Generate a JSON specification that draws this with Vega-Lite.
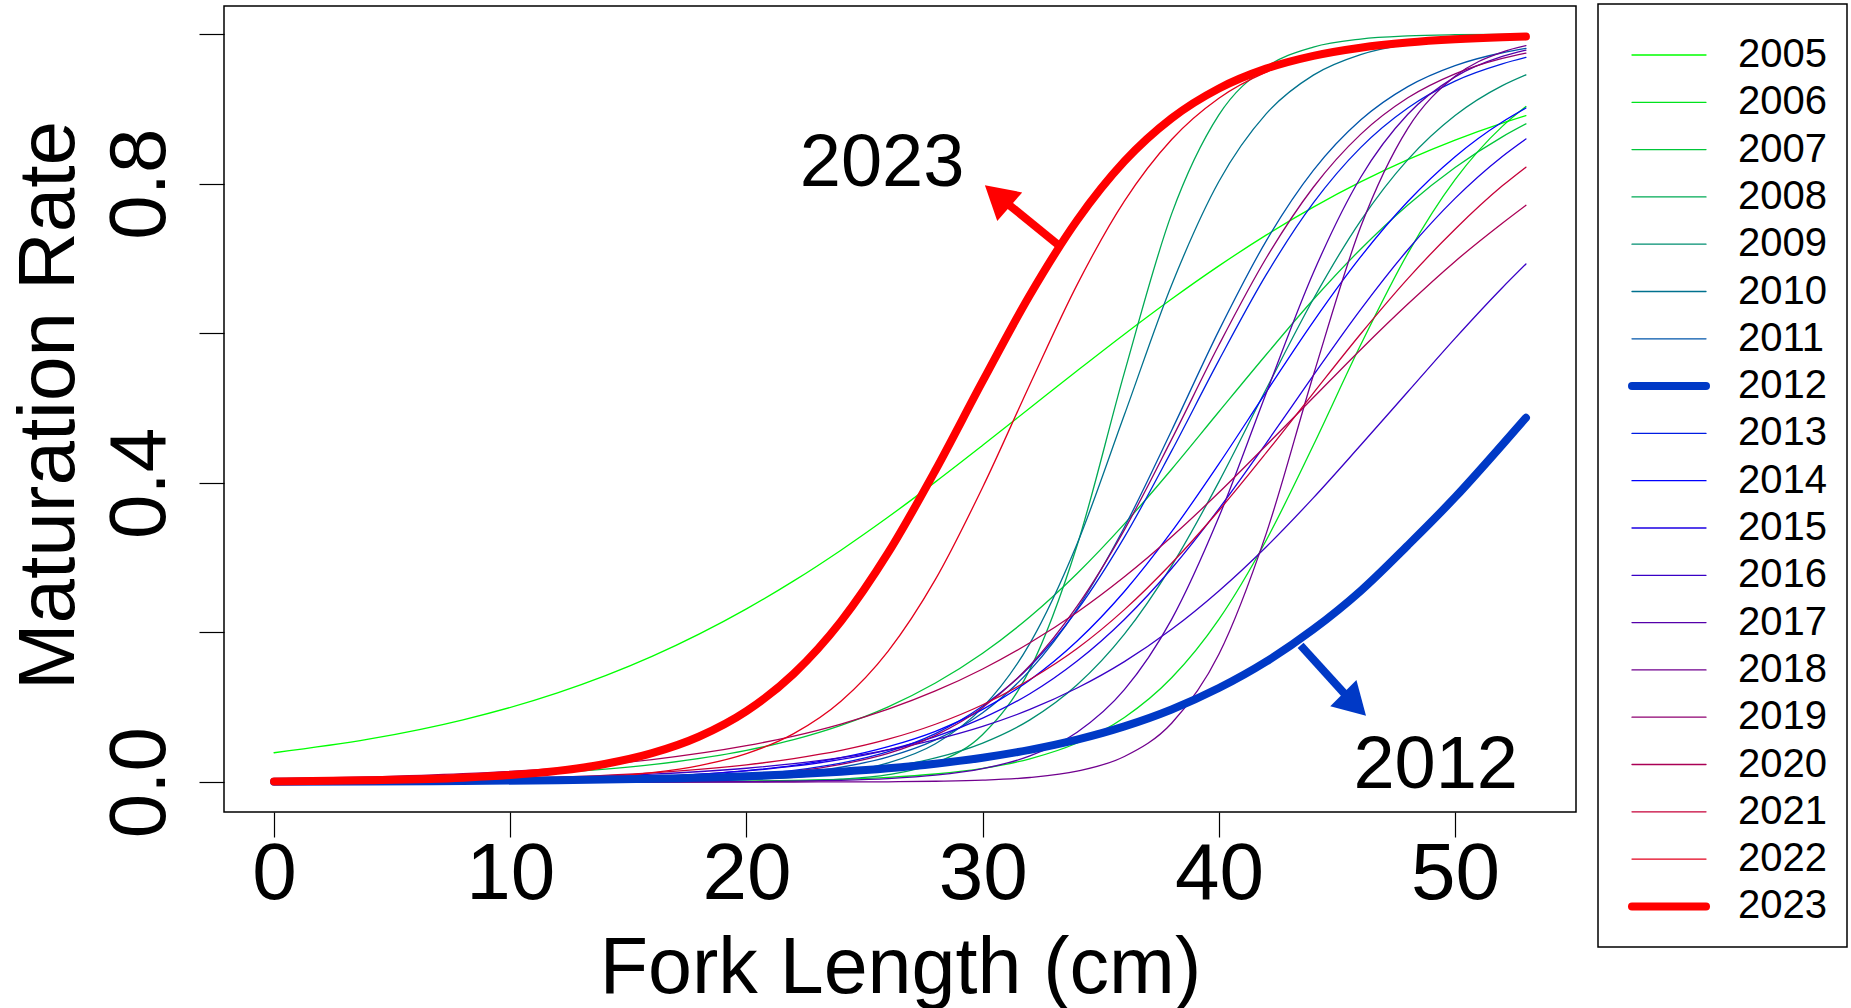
{
"$schema": "https://vega.github.io/schema/vega-lite/v6.json",
"width": 1352, "height": 806,
"autosize": {"type": "none"},
"padding": {"left": 224, "top": 6, "right": 275, "bottom": 196},
"background": "white",
"config": {
  "view": {"stroke": "black", "strokeWidth": 1.5},
  "axis": {"labelFont": "Liberation Sans", "titleFont": "Liberation Sans", "titleFontWeight": "normal", "labelColor": "black", "titleColor": "black", "tickColor": "black", "tickWidth": 1.2, "domain": false, "grid": false, "labelOverlap": false, "labelFlush": false, "labelBound": false}
},
"datasets": {
 "curves": [
{"yr":"2005","x":0,"p":0.0392},{"yr":"2005","x":4,"p":0.0573},{"yr":"2005","x":8,"p":0.0832},{"yr":"2005","x":12,"p":0.1192},{"yr":"2005","x":16,"p":0.168},{"yr":"2005","x":20,"p":0.2315},{"yr":"2005","x":22,"p":0.2689},{"yr":"2005","x":24,"p":0.31},{"yr":"2005","x":26,"p":0.3543},{"yr":"2005","x":28,"p":0.4013},{"yr":"2005","x":30,"p":0.4502},{"yr":"2005","x":32,"p":0.5},{"yr":"2005","x":34,"p":0.5498},{"yr":"2005","x":36,"p":0.5987},{"yr":"2005","x":38,"p":0.6457},{"yr":"2005","x":40,"p":0.69},{"yr":"2005","x":42,"p":0.7311},{"yr":"2005","x":44,"p":0.7685},{"yr":"2005","x":46,"p":0.8022},{"yr":"2005","x":48,"p":0.832},{"yr":"2005","x":50,"p":0.8581},{"yr":"2005","x":52,"p":0.8808},{"yr":"2005","x":53,"p":0.8909},
{"yr":"2006","x":0,"p":0},{"yr":"2006","x":4,"p":0},{"yr":"2006","x":8,"p":0.0001},{"yr":"2006","x":12,"p":0.0001},{"yr":"2006","x":16,"p":0.0004},{"yr":"2006","x":20,"p":0.0013},{"yr":"2006","x":22,"p":0.0022},{"yr":"2006","x":24,"p":0.0037},{"yr":"2006","x":26,"p":0.0063},{"yr":"2006","x":28,"p":0.0108},{"yr":"2006","x":30,"p":0.0183},{"yr":"2006","x":32,"p":0.0311},{"yr":"2006","x":34,"p":0.0522},{"yr":"2006","x":36,"p":0.0863},{"yr":"2006","x":38,"p":0.1394},{"yr":"2006","x":40,"p":0.2175},{"yr":"2006","x":42,"p":0.323},{"yr":"2006","x":44,"p":0.4502},{"yr":"2006","x":46,"p":0.5842},{"yr":"2006","x":48,"p":0.7068},{"yr":"2006","x":50,"p":0.8053},{"yr":"2006","x":52,"p":0.8765},{"yr":"2006","x":53,"p":0.903},
{"yr":"2007","x":0,"p":0.002},{"yr":"2007","x":4,"p":0.0037},{"yr":"2007","x":8,"p":0.0068},{"yr":"2007","x":12,"p":0.0126},{"yr":"2007","x":16,"p":0.0232},{"yr":"2007","x":20,"p":0.0423},{"yr":"2007","x":22,"p":0.0568},{"yr":"2007","x":24,"p":0.0759},{"yr":"2007","x":26,"p":0.1006},{"yr":"2007","x":28,"p":0.1324},{"yr":"2007","x":30,"p":0.1722},{"yr":"2007","x":32,"p":0.221},{"yr":"2007","x":34,"p":0.2789},{"yr":"2007","x":36,"p":0.3452},{"yr":"2007","x":38,"p":0.4182},{"yr":"2007","x":40,"p":0.495},{"yr":"2007","x":42,"p":0.5712},{"yr":"2007","x":44,"p":0.645},{"yr":"2007","x":46,"p":0.7123},{"yr":"2007","x":48,"p":0.7715},{"yr":"2007","x":50,"p":0.8216},{"yr":"2007","x":52,"p":0.8625},{"yr":"2007","x":53,"p":0.8798},
{"yr":"2008","x":0,"p":0},{"yr":"2008","x":4,"p":0},{"yr":"2008","x":8,"p":0},{"yr":"2008","x":12,"p":0},{"yr":"2008","x":16,"p":0.0001},{"yr":"2008","x":20,"p":0.0006},{"yr":"2008","x":22,"p":0.0015},{"yr":"2008","x":24,"p":0.0038},{"yr":"2008","x":26,"p":0.0099},{"yr":"2008","x":28,"p":0.0253},{"yr":"2008","x":30,"p":0.0636},{"yr":"2008","x":32,"p":0.1506},{"yr":"2008","x":34,"p":0.3165},{"yr":"2008","x":36,"p":0.5474},{"yr":"2008","x":38,"p":0.7595},{"yr":"2008","x":40,"p":0.8918},{"yr":"2008","x":42,"p":0.9556},{"yr":"2008","x":44,"p":0.9825},{"yr":"2008","x":46,"p":0.9932},{"yr":"2008","x":48,"p":0.9974},{"yr":"2008","x":50,"p":0.999},{"yr":"2008","x":52,"p":0.9996},{"yr":"2008","x":53,"p":0.9998},
{"yr":"2009","x":0,"p":0},{"yr":"2009","x":4,"p":0.0001},{"yr":"2009","x":8,"p":0.0002},{"yr":"2009","x":12,"p":0.0006},{"yr":"2009","x":16,"p":0.0017},{"yr":"2009","x":20,"p":0.0045},{"yr":"2009","x":22,"p":0.0074},{"yr":"2009","x":24,"p":0.0121},{"yr":"2009","x":26,"p":0.0198},{"yr":"2009","x":28,"p":0.0323},{"yr":"2009","x":30,"p":0.0522},{"yr":"2009","x":32,"p":0.0832},{"yr":"2009","x":34,"p":0.1301},{"yr":"2009","x":36,"p":0.1978},{"yr":"2009","x":38,"p":0.2891},{"yr":"2009","x":40,"p":0.4013},{"yr":"2009","x":42,"p":0.525},{"yr":"2009","x":44,"p":0.6457},{"yr":"2009","x":46,"p":0.7503},{"yr":"2009","x":48,"p":0.832},{"yr":"2009","x":50,"p":0.8909},{"yr":"2009","x":52,"p":0.9309},{"yr":"2009","x":53,"p":0.9453},
{"yr":"2010","x":0,"p":0},{"yr":"2010","x":4,"p":0},{"yr":"2010","x":8,"p":0},{"yr":"2010","x":12,"p":0.0002},{"yr":"2010","x":16,"p":0.0007},{"yr":"2010","x":20,"p":0.003},{"yr":"2010","x":22,"p":0.0062},{"yr":"2010","x":24,"p":0.0126},{"yr":"2010","x":26,"p":0.0256},{"yr":"2010","x":28,"p":0.0512},{"yr":"2010","x":30,"p":0.0998},{"yr":"2010","x":32,"p":0.1854},{"yr":"2010","x":34,"p":0.3186},{"yr":"2010","x":36,"p":0.491},{"yr":"2010","x":38,"p":0.6646},{"yr":"2010","x":40,"p":0.8028},{"yr":"2010","x":42,"p":0.8932},{"yr":"2010","x":44,"p":0.945},{"yr":"2010","x":46,"p":0.9724},{"yr":"2010","x":48,"p":0.9864},{"yr":"2010","x":50,"p":0.9933},{"yr":"2010","x":52,"p":0.9967},{"yr":"2010","x":53,"p":0.9977},
{"yr":"2011","x":0,"p":0},{"yr":"2011","x":4,"p":0.0001},{"yr":"2011","x":8,"p":0.0003},{"yr":"2011","x":12,"p":0.0008},{"yr":"2011","x":16,"p":0.0023},{"yr":"2011","x":20,"p":0.0068},{"yr":"2011","x":22,"p":0.0117},{"yr":"2011","x":24,"p":0.0198},{"yr":"2011","x":26,"p":0.0336},{"yr":"2011","x":28,"p":0.0563},{"yr":"2011","x":30,"p":0.0928},{"yr":"2011","x":32,"p":0.1493},{"yr":"2011","x":34,"p":0.2315},{"yr":"2011","x":36,"p":0.3407},{"yr":"2011","x":38,"p":0.47},{"yr":"2011","x":40,"p":0.6035},{"yr":"2011","x":42,"p":0.7231},{"yr":"2011","x":44,"p":0.8176},{"yr":"2011","x":46,"p":0.8849},{"yr":"2011","x":48,"p":0.9296},{"yr":"2011","x":50,"p":0.9577},{"yr":"2011","x":52,"p":0.9749},{"yr":"2011","x":53,"p":0.9807},
{"yr":"2012","x":0,"p":0.0004},{"yr":"2012","x":4,"p":0.0008},{"yr":"2012","x":8,"p":0.0014},{"yr":"2012","x":12,"p":0.0025},{"yr":"2012","x":16,"p":0.0044},{"yr":"2012","x":20,"p":0.0078},{"yr":"2012","x":22,"p":0.0105},{"yr":"2012","x":24,"p":0.0139},{"yr":"2012","x":26,"p":0.0185},{"yr":"2012","x":28,"p":0.0246},{"yr":"2012","x":30,"p":0.0326},{"yr":"2012","x":32,"p":0.0431},{"yr":"2012","x":34,"p":0.0568},{"yr":"2012","x":36,"p":0.0745},{"yr":"2012","x":38,"p":0.0971},{"yr":"2012","x":40,"p":0.1257},{"yr":"2012","x":42,"p":0.161},{"yr":"2012","x":44,"p":0.2042},{"yr":"2012","x":46,"p":0.2555},{"yr":"2012","x":48,"p":0.3165},{"yr":"2012","x":50,"p":0.3806},{"yr":"2012","x":52,"p":0.4509},{"yr":"2012","x":53,"p":0.487},
{"yr":"2013","x":0,"p":0.0001},{"yr":"2013","x":4,"p":0.0002},{"yr":"2013","x":8,"p":0.0005},{"yr":"2013","x":12,"p":0.0014},{"yr":"2013","x":16,"p":0.0037},{"yr":"2013","x":20,"p":0.0098},{"yr":"2013","x":22,"p":0.0157},{"yr":"2013","x":24,"p":0.0253},{"yr":"2013","x":26,"p":0.0407},{"yr":"2013","x":28,"p":0.0648},{"yr":"2013","x":30,"p":0.1016},{"yr":"2013","x":32,"p":0.1545},{"yr":"2013","x":34,"p":0.2297},{"yr":"2013","x":36,"p":0.3274},{"yr":"2013","x":38,"p":0.4427},{"yr":"2013","x":40,"p":0.5637},{"yr":"2013","x":42,"p":0.6779},{"yr":"2013","x":44,"p":0.7742},{"yr":"2013","x":46,"p":0.8481},{"yr":"2013","x":48,"p":0.9011},{"yr":"2013","x":50,"p":0.937},{"yr":"2013","x":52,"p":0.96},{"yr":"2013","x":53,"p":0.9686},
{"yr":"2014","x":0,"p":0.0003},{"yr":"2014","x":4,"p":0.0007},{"yr":"2014","x":8,"p":0.0015},{"yr":"2014","x":12,"p":0.0033},{"yr":"2014","x":16,"p":0.0071},{"yr":"2014","x":20,"p":0.0153},{"yr":"2014","x":22,"p":0.0223},{"yr":"2014","x":24,"p":0.0326},{"yr":"2014","x":26,"p":0.0474},{"yr":"2014","x":28,"p":0.0679},{"yr":"2014","x":30,"p":0.0971},{"yr":"2014","x":32,"p":0.1365},{"yr":"2014","x":34,"p":0.1886},{"yr":"2014","x":36,"p":0.2548},{"yr":"2014","x":38,"p":0.3347},{"yr":"2014","x":40,"p":0.4253},{"yr":"2014","x":42,"p":0.5212},{"yr":"2014","x":44,"p":0.6156},{"yr":"2014","x":46,"p":0.702},{"yr":"2014","x":48,"p":0.7761},{"yr":"2014","x":50,"p":0.836},{"yr":"2014","x":52,"p":0.8824},{"yr":"2014","x":53,"p":0.901},
{"yr":"2015","x":0,"p":0.0004},{"yr":"2015","x":4,"p":0.0008},{"yr":"2015","x":8,"p":0.0017},{"yr":"2015","x":12,"p":0.0035},{"yr":"2015","x":16,"p":0.0072},{"yr":"2015","x":20,"p":0.0149},{"yr":"2015","x":22,"p":0.0212},{"yr":"2015","x":24,"p":0.0302},{"yr":"2015","x":26,"p":0.0431},{"yr":"2015","x":28,"p":0.0607},{"yr":"2015","x":30,"p":0.0855},{"yr":"2015","x":32,"p":0.1181},{"yr":"2015","x":34,"p":0.1618},{"yr":"2015","x":36,"p":0.2174},{"yr":"2015","x":38,"p":0.2855},{"yr":"2015","x":40,"p":0.3652},{"yr":"2015","x":42,"p":0.4529},{"yr":"2015","x":44,"p":0.5436},{"yr":"2015","x":46,"p":0.6316},{"yr":"2015","x":48,"p":0.7116},{"yr":"2015","x":50,"p":0.7802},{"yr":"2015","x":52,"p":0.8363},{"yr":"2015","x":53,"p":0.8597},
{"yr":"2016","x":0,"p":0.001},{"yr":"2016","x":4,"p":0.0019},{"yr":"2016","x":8,"p":0.0033},{"yr":"2016","x":12,"p":0.0059},{"yr":"2016","x":16,"p":0.0105},{"yr":"2016","x":20,"p":0.0185},{"yr":"2016","x":22,"p":0.0246},{"yr":"2016","x":24,"p":0.0326},{"yr":"2016","x":26,"p":0.0431},{"yr":"2016","x":28,"p":0.0568},{"yr":"2016","x":30,"p":0.0745},{"yr":"2016","x":32,"p":0.0971},{"yr":"2016","x":34,"p":0.1257},{"yr":"2016","x":36,"p":0.161},{"yr":"2016","x":38,"p":0.2042},{"yr":"2016","x":40,"p":0.2555},{"yr":"2016","x":42,"p":0.3143},{"yr":"2016","x":44,"p":0.3799},{"yr":"2016","x":46,"p":0.4502},{"yr":"2016","x":48,"p":0.5217},{"yr":"2016","x":50,"p":0.5931},{"yr":"2016","x":52,"p":0.6608},{"yr":"2016","x":53,"p":0.6925},
{"yr":"2017","x":0,"p":0},{"yr":"2017","x":4,"p":0},{"yr":"2017","x":8,"p":0},{"yr":"2017","x":12,"p":0},{"yr":"2017","x":16,"p":0.0002},{"yr":"2017","x":20,"p":0.0006},{"yr":"2017","x":22,"p":0.0012},{"yr":"2017","x":24,"p":0.0024},{"yr":"2017","x":26,"p":0.0047},{"yr":"2017","x":28,"p":0.0092},{"yr":"2017","x":30,"p":0.018},{"yr":"2017","x":32,"p":0.0349},{"yr":"2017","x":34,"p":0.0666},{"yr":"2017","x":36,"p":0.1235},{"yr":"2017","x":38,"p":0.2175},{"yr":"2017","x":40,"p":0.3543},{"yr":"2017","x":42,"p":0.5195},{"yr":"2017","x":44,"p":0.6809},{"yr":"2017","x":46,"p":0.8082},{"yr":"2017","x":48,"p":0.8927},{"yr":"2017","x":50,"p":0.9426},{"yr":"2017","x":52,"p":0.97},{"yr":"2017","x":53,"p":0.9785},
{"yr":"2018","x":0,"p":0},{"yr":"2018","x":4,"p":0},{"yr":"2018","x":8,"p":0},{"yr":"2018","x":12,"p":0},{"yr":"2018","x":16,"p":0},{"yr":"2018","x":20,"p":0},{"yr":"2018","x":22,"p":0.0001},{"yr":"2018","x":24,"p":0.0002},{"yr":"2018","x":26,"p":0.0004},{"yr":"2018","x":28,"p":0.0011},{"yr":"2018","x":30,"p":0.0025},{"yr":"2018","x":32,"p":0.0061},{"yr":"2018","x":34,"p":0.0145},{"yr":"2018","x":36,"p":0.0342},{"yr":"2018","x":38,"p":0.0787},{"yr":"2018","x":40,"p":0.1708},{"yr":"2018","x":42,"p":0.3318},{"yr":"2018","x":44,"p":0.5439},{"yr":"2018","x":46,"p":0.7419},{"yr":"2018","x":48,"p":0.8739},{"yr":"2018","x":50,"p":0.9435},{"yr":"2018","x":52,"p":0.9758},{"yr":"2018","x":53,"p":0.9843},
{"yr":"2019","x":0,"p":0},{"yr":"2019","x":4,"p":0.0002},{"yr":"2019","x":8,"p":0.0004},{"yr":"2019","x":12,"p":0.0012},{"yr":"2019","x":16,"p":0.0032},{"yr":"2019","x":20,"p":0.0087},{"yr":"2019","x":22,"p":0.0143},{"yr":"2019","x":24,"p":0.0237},{"yr":"2019","x":26,"p":0.0384},{"yr":"2019","x":28,"p":0.0625},{"yr":"2019","x":30,"p":0.0998},{"yr":"2019","x":32,"p":0.1558},{"yr":"2019","x":34,"p":0.2351},{"yr":"2019","x":36,"p":0.3372},{"yr":"2019","x":38,"p":0.4581},{"yr":"2019","x":40,"p":0.5842},{"yr":"2019","x":42,"p":0.7002},{"yr":"2019","x":44,"p":0.7951},{"yr":"2019","x":46,"p":0.8658},{"yr":"2019","x":48,"p":0.9147},{"yr":"2019","x":50,"p":0.9468},{"yr":"2019","x":52,"p":0.9674},{"yr":"2019","x":53,"p":0.9744},
{"yr":"2020","x":0,"p":0.0042},{"yr":"2020","x":4,"p":0.0069},{"yr":"2020","x":8,"p":0.0113},{"yr":"2020","x":12,"p":0.0184},{"yr":"2020","x":16,"p":0.03},{"yr":"2020","x":20,"p":0.0486},{"yr":"2020","x":22,"p":0.0615},{"yr":"2020","x":24,"p":0.0776},{"yr":"2020","x":26,"p":0.0975},{"yr":"2020","x":28,"p":0.1218},{"yr":"2020","x":30,"p":0.1512},{"yr":"2020","x":32,"p":0.1862},{"yr":"2020","x":34,"p":0.2271},{"yr":"2020","x":36,"p":0.2745},{"yr":"2020","x":38,"p":0.328},{"yr":"2020","x":40,"p":0.387},{"yr":"2020","x":42,"p":0.45},{"yr":"2020","x":44,"p":0.514},{"yr":"2020","x":46,"p":0.578},{"yr":"2020","x":48,"p":0.639},{"yr":"2020","x":50,"p":0.696},{"yr":"2020","x":52,"p":0.747},{"yr":"2020","x":53,"p":0.771},
{"yr":"2021","x":0,"p":0.001},{"yr":"2021","x":4,"p":0.0018},{"yr":"2021","x":8,"p":0.0035},{"yr":"2021","x":12,"p":0.0066},{"yr":"2021","x":16,"p":0.0123},{"yr":"2021","x":20,"p":0.023},{"yr":"2021","x":22,"p":0.0314},{"yr":"2021","x":24,"p":0.0423},{"yr":"2021","x":26,"p":0.0573},{"yr":"2021","x":28,"p":0.0773},{"yr":"2021","x":30,"p":0.1034},{"yr":"2021","x":32,"p":0.1371},{"yr":"2021","x":34,"p":0.1785},{"yr":"2021","x":36,"p":0.2305},{"yr":"2021","x":38,"p":0.2925},{"yr":"2021","x":40,"p":0.363},{"yr":"2021","x":42,"p":0.44},{"yr":"2021","x":44,"p":0.52},{"yr":"2021","x":46,"p":0.599},{"yr":"2021","x":48,"p":0.673},{"yr":"2021","x":50,"p":0.739},{"yr":"2021","x":52,"p":0.797},{"yr":"2021","x":53,"p":0.822},
{"yr":"2022","x":0,"p":0.0002},{"yr":"2022","x":4,"p":0.0005},{"yr":"2022","x":8,"p":0.0014},{"yr":"2022","x":12,"p":0.0042},{"yr":"2022","x":16,"p":0.0127},{"yr":"2022","x":18,"p":0.0221},{"yr":"2022","x":20,"p":0.0381},{"yr":"2022","x":22,"p":0.0648},{"yr":"2022","x":24,"p":0.1081},{"yr":"2022","x":26,"p":0.1751},{"yr":"2022","x":28,"p":0.2709},{"yr":"2022","x":30,"p":0.3941},{"yr":"2022","x":32,"p":0.5315},{"yr":"2022","x":34,"p":0.665},{"yr":"2022","x":36,"p":0.7766},{"yr":"2022","x":38,"p":0.859},{"yr":"2022","x":40,"p":0.9142},{"yr":"2022","x":42,"p":0.9491},{"yr":"2022","x":44,"p":0.9703},{"yr":"2022","x":46,"p":0.9805},{"yr":"2022","x":48,"p":0.988},{"yr":"2022","x":50,"p":0.9925},{"yr":"2022","x":52,"p":0.995},{"yr":"2022","x":53,"p":0.996},
{"yr":"2023","x":0,"p":0.0009},{"yr":"2023","x":4,"p":0.0023},{"yr":"2023","x":8,"p":0.0058},{"yr":"2023","x":12,"p":0.015},{"yr":"2023","x":14,"p":0.0242},{"yr":"2023","x":16,"p":0.0386},{"yr":"2023","x":18,"p":0.0609},{"yr":"2023","x":20,"p":0.0948},{"yr":"2023","x":22,"p":0.1448},{"yr":"2023","x":24,"p":0.2148},{"yr":"2023","x":26,"p":0.3066},{"yr":"2023","x":28,"p":0.4168},{"yr":"2023","x":30,"p":0.5359},{"yr":"2023","x":32,"p":0.6511},{"yr":"2023","x":34,"p":0.751},{"yr":"2023","x":36,"p":0.8298},{"yr":"2023","x":38,"p":0.8874},{"yr":"2023","x":40,"p":0.9272},{"yr":"2023","x":42,"p":0.9537},{"yr":"2023","x":44,"p":0.9708},{"yr":"2023","x":46,"p":0.9817},{"yr":"2023","x":48,"p":0.9886},{"yr":"2023","x":50,"p":0.9929},{"yr":"2023","x":52,"p":0.9956},{"yr":"2023","x":53,"p":0.9965}
 ]
},
"encoding": {
  "x": {"field": "x", "type": "quantitative",
        "scale": {"domain": [-2.12, 55.12], "nice": false, "zero": false},
        "axis": {"values": [0, 10, 20, 30, 40, 50], "title": "Fork Length (cm)", "labelFontSize": 80, "titleFontSize": 79, "tickSize": 25, "labelPadding": 61, "labelBaseline": "alphabetic", "labelAlign": "center", "titleY": 180, "titleBaseline": "alphabetic"}},
  "y": {"field": "p", "type": "quantitative",
        "scale": {"domain": [-0.04, 1.0374], "nice": false, "zero": false},
        "axis": {"values": [0, 0.2, 0.4, 0.6, 0.8, 1.0], "title": "Maturation Rate", "labelFontSize": 80, "titleFontSize": 80, "tickSize": 25, "labelPadding": 35, "labelAngle": 270, "labelAlign": "center", "labelBaseline": "alphabetic",
                 "labelExpr": "(abs(datum.value) < 0.01 || abs(datum.value - 0.4) < 0.01 || abs(datum.value - 0.8) < 0.01) ? format(datum.value, '.1f') : ''",
                 "titleAngle": 270, "titleX": -151, "titleY": 399, "titleAlign": "center", "titleBaseline": "alphabetic"}}
},
"layer": [
  {
    "data": {"name": "curves"},
    "encoding": {
      "detail": {"field": "yr"},
      "color": {"field": "yr", "type": "ordinal",
        "scale": {"domain": ["2005","2006","2007","2008","2009","2010","2011","2012","2013","2014","2015","2016","2017","2018","2019","2020","2021","2022","2023"],
                  "range": ["#00FF00","#00E31C","#00C639","#00AA55","#008E71","#00718E","#0055AA","#0039C6","#001CE3","#0000FF","#1C00E3","#3900C6","#5500AA","#71008E","#8E0071","#AA0055","#C60039","#E3001C","#FF0000"]},
        "legend": {"title": "\u00a0", "titleFontSize": 11, "titlePadding": 0, "orient": "none", "legendX": 1374, "legendY": -2, "padding": 20, "strokeColor": "black", "fillColor": "white", "labelFont": "Liberation Sans", "labelFontSize": 40, "labelColor": "black", "labelOffset": 49, "symbolOffset": 31, "rowPadding": 7.3, "symbolType": "M-2.4667,0H2.4667", "symbolSize": 900, "labelLimit": 300,
                   "encode": {"legend": {"update": {"strokeWidth": {"value": 1.5}}},
                              "symbols": {"update": {"strokeCap": {"value": "round"}, "strokeWidth": {"signal": "(datum.value == '2012' || datum.value == '2023') ? 8 : 1.3"}}}}}},
      "strokeWidth": {"field": "yr", "type": "ordinal",
        "scale": {"type": "ordinal", "domain": ["2005","2006","2007","2008","2009","2010","2011","2012","2013","2014","2015","2016","2017","2018","2019","2020","2021","2022","2023"],
                  "range": [1.3,1.3,1.3,1.3,1.3,1.3,1.3,8,1.3,1.3,1.3,1.3,1.3,1.3,1.3,1.3,1.3,1.3,8]},
        "legend": null}
    },
    "layer": [
      {"transform": [{"filter": "datum.yr != '2012' && datum.yr != '2023'"}],
       "mark": {"type": "line", "interpolate": "monotone", "strokeCap": "round", "strokeJoin": "round"}},
      {"transform": [{"filter": "datum.yr == '2012' || datum.yr == '2023'"}],
       "mark": {"type": "line", "interpolate": "monotone", "strokeCap": "round", "strokeJoin": "round"}}
    ]
  },
  {
    "data": {"values": [{"x": 33.16, "p": 0.719, "x2": 31.1, "p2": 0.772}]},
    "mark": {"type": "rule", "color": "#FF0000", "strokeWidth": 8},
    "encoding": {"x2": {"field": "x2"}, "y2": {"field": "p2"}}
  },
  {
    "data": {"values": [{"x": 30.62, "p": 0.7835}]},
    "mark": {"type": "point", "shape": "triangle-up", "filled": true, "color": "#FF0000", "opacity": 1, "size": 1444, "angle": 311, "strokeWidth": 0}
  },
  {
    "data": {"values": [{"x": 43.46, "p": 0.1827, "x2": 45.35, "p2": 0.117}]},
    "mark": {"type": "rule", "color": "#0039C6", "strokeWidth": 8},
    "encoding": {"x2": {"field": "x2"}, "y2": {"field": "p2"}}
  },
  {
    "data": {"values": [{"x": 45.75, "p": 0.1037}]},
    "mark": {"type": "point", "shape": "triangle-up", "filled": true, "color": "#0039C6", "opacity": 1, "size": 1369, "angle": 135, "strokeWidth": 0}
  },
  {
    "data": {"values": [{"x": 25.74, "p": 0.797, "t": "2023"}, {"x": 49.18, "p": -0.008, "t": "2012"}]},
    "mark": {"type": "text", "font": "Liberation Sans", "fontSize": 74, "align": "center", "baseline": "alphabetic", "color": "black"},
    "encoding": {"text": {"field": "t"}}
  }
]
}
